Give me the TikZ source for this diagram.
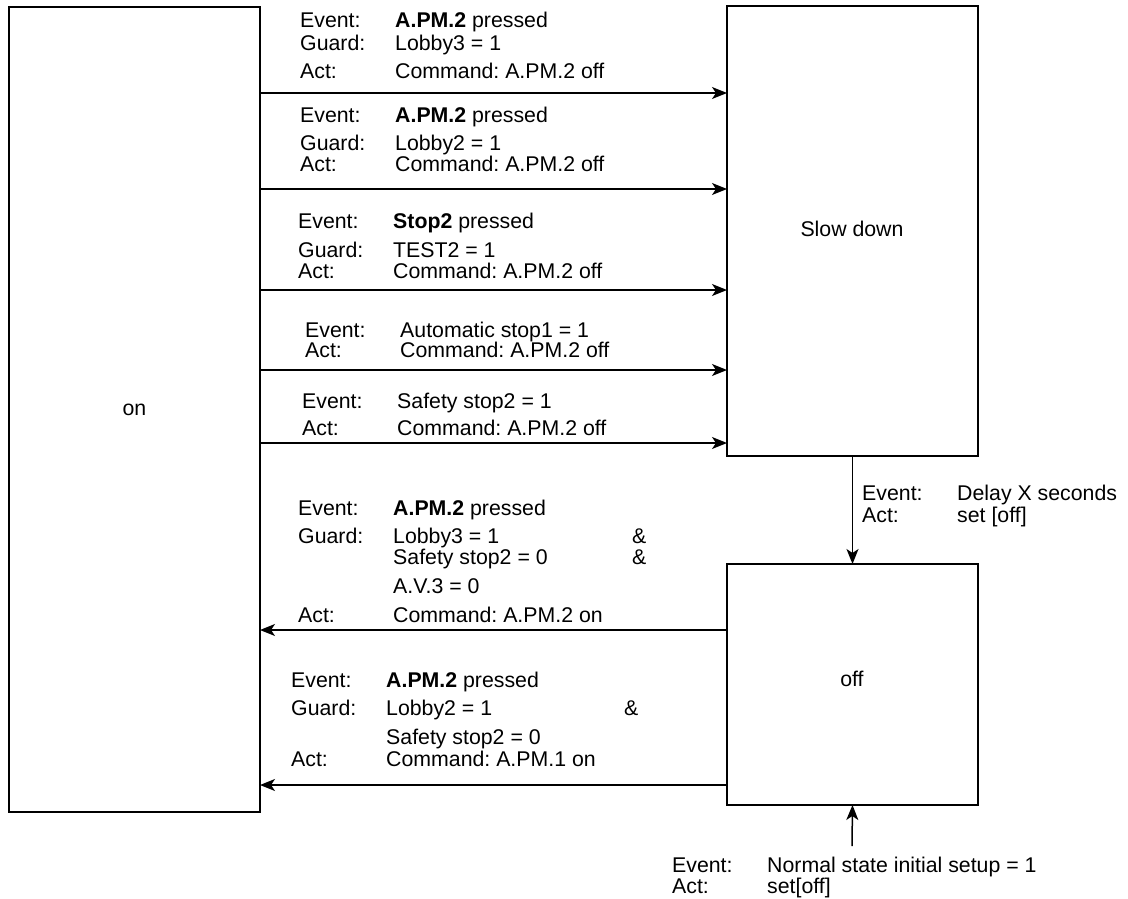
\documentclass[tikz,border=0pt]{standalone}
\usepackage{fontspec}
\setmainfont{Liberation Sans}
\usetikzlibrary{arrows.meta}
\frenchspacing
\begin{document}
\begin{tikzpicture}[x=1pt,y=-1pt,
  box/.style={draw, line width=1.5pt, inner sep=0pt, outer sep=0pt, font=\fontsize{21.3}{24}\selectfont},
  lbl/.style={anchor=base west, inner sep=0pt, font=\fontsize{21.3}{24}\selectfont},
  arr/.style={line width=1.5pt, -{Stealth[length=15pt,width=12pt,inset=4pt]}}]
\useasboundingbox (0,0) rectangle (1128,899);
% states
\node[box, minimum width=251pt, minimum height=805pt] (on) at (134.5,409.5) {on};
\node[box, minimum width=251pt, minimum height=450pt] (slow) at (852.5,231) {};
\node[lbl, anchor=center] (slowlbl) at (852,229) {Slow down};
\node[box, minimum width=251pt, minimum height=241pt] (off) at (852.5,684.5) {};
\node[lbl, anchor=center] (offlbl) at (852,679) {off};
% transitions on -> slow
\draw[arr] (on.east |- 0,93) -- (slow.west |- 0,93);
\draw[arr] (on.east |- 0,189) -- (slow.west |- 0,189);
\draw[arr] (on.east |- 0,290) -- (slow.west |- 0,290);
\draw[arr] (on.east |- 0,370) -- (slow.west |- 0,370);
\draw[arr] (on.east |- 0,443) -- (slow.west |- 0,443);
% off -> on
\draw[arr] (off.west |- 0,630) -- (on.east |- 0,630);
\draw[arr] (off.west |- 0,785) -- (on.east |- 0,785);
% slow -> off
\draw[arr] (slow.south) -- (off.north);
% initial
\coordinate (init) at (852,846);
\draw[arr] (init) -- (off.south);
% block 1
\node[lbl] (e1) at (300,28) {Event:};
\node[lbl] (e1v) at (395,28) {\textbf{A.PM.2} pressed};
\node[lbl] (g1) at (300,51) {Guard:};
\node[lbl] (g1v) at (395,51) {Lobby3 = 1};
\node[lbl] (a1) at (300,78) {Act:};
\node[lbl] (a1v) at (395,78) {Command: A.PM.2 off};
% block 2
\node[lbl] (e2) at (300,122) {Event:};
\node[lbl] (e2v) at (395,122) {\textbf{A.PM.2} pressed};
\node[lbl] (g2) at (300,150) {Guard:};
\node[lbl] (g2v) at (395,150) {Lobby2 = 1};
\node[lbl] (a2) at (300,171) {Act:};
\node[lbl] (a2v) at (395,171) {Command: A.PM.2 off};
% block 3
\node[lbl] (e3) at (298,228) {Event:};
\node[lbl] (e3v) at (393,228) {\textbf{Stop2} pressed};
\node[lbl] (g3) at (298,257) {Guard:};
\node[lbl] (g3v) at (393,257) {TEST2 = 1};
\node[lbl] (a3) at (298,278) {Act:};
\node[lbl] (a3v) at (393,278) {Command: A.PM.2 off};
% block 4
\node[lbl] (e4) at (305,337) {Event:};
\node[lbl] (e4v) at (400,337) {Automatic stop1 = 1};
\node[lbl] (a4) at (305,357) {Act:};
\node[lbl] (a4v) at (400,357) {Command: A.PM.2 off};
% block 5
\node[lbl] (e5) at (302,408) {Event:};
\node[lbl] (e5v) at (397,408) {Safety stop2 = 1};
\node[lbl] (a5) at (302,435) {Act:};
\node[lbl] (a5v) at (397,435) {Command: A.PM.2 off};
% block 6
\node[lbl] (e6) at (298,515) {Event:};
\node[lbl] (e6v) at (393,515) {\textbf{A.PM.2} pressed};
\node[lbl] (g6) at (298,543) {Guard:};
\node[lbl] (g6v) at (393,543) {Lobby3 = 1};
\node[lbl] (g6a) at (632,543) {\&};
\node[lbl] (g6w) at (393,564) {Safety stop2 = 0};
\node[lbl] (g6b) at (632,564) {\&};
\node[lbl] (g6x) at (393,593) {A.V.3 = 0};
\node[lbl] (a6) at (298,622) {Act:};
\node[lbl] (a6v) at (393,622) {Command: A.PM.2 on};
% block 7
\node[lbl] (e7) at (291,687) {Event:};
\node[lbl] (e7v) at (386,687) {\textbf{A.PM.2} pressed};
\node[lbl] (g7) at (291,715) {Guard:};
\node[lbl] (g7v) at (386,715) {Lobby2 = 1};
\node[lbl] (g7a) at (624,715) {\&};
\node[lbl] (g7w) at (386,744) {Safety stop2 = 0};
\node[lbl] (a7) at (291,766) {Act:};
\node[lbl] (a7v) at (386,766) {Command: A.PM.1 on};
% delay
\node[lbl] (e8) at (862,500) {Event:};
\node[lbl] (e8v) at (957,500) {Delay X seconds};
\node[lbl] (a8) at (862,522) {Act:};
\node[lbl] (a8v) at (957,522) {set [off]};
% initial
\node[lbl] (e9) at (672,872) {Event:};
\node[lbl] (e9v) at (767,872) {Normal state initial setup = 1};
\node[lbl] (a9) at (672,893) {Act:};
\node[lbl] (a9v) at (767,893) {set[off]};
\end{tikzpicture}
\end{document}
